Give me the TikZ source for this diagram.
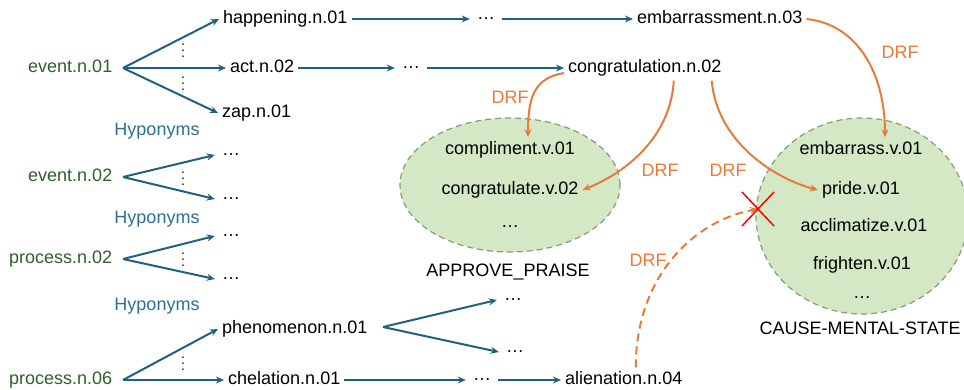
\documentclass[tikz,border=0pt]{standalone}
\usepackage{fontspec}
\setmainfont{Liberation Sans}
\usetikzlibrary{arrows.meta,shapes.geometric}
\definecolor{linkblue}{HTML}{22607F}
\definecolor{hypblue}{HTML}{2F6F8F}
\definecolor{rootgreen}{HTML}{2F5F2A}
\definecolor{drforange}{HTML}{E77B3A}
\definecolor{framefill}{HTML}{D5E8C5}
\definecolor{frameline}{HTML}{869C79}
\newcommand{\vdts}{\vbox{\fontsize{14}{6}\selectfont\baselineskip6pt\lineskiplimit0pt\hbox{.}\hbox{.}\hbox{.}}}
\tikzset{
syn/.style={inner sep=4pt, text height=13pt, text depth=4pt},
root/.style={syn, text=rootgreen},
hyp/.style={text=hypblue},
more/.style={inner sep=7pt},
vdt/.style={inner sep=0pt, anchor=base},
rel/.style={draw=linkblue, line width=2pt, -{Stealth[length=8pt,width=7pt]}},
drf/.style={draw=drforange, line width=2pt, -{Stealth[length=8pt,width=7pt]}},
drflab/.style={text=drforange},
frame/.style={ellipse, draw=frameline, dash pattern=on 6pt off 4pt, fill=framefill, line width=1.2pt}
}
\begin{document}
\begin{tikzpicture}[x=1pt,y=-1pt,font=\fontsize{18}{21}\selectfont]
\useasboundingbox (0,0) rectangle (964,389);
\clip (0,0) rectangle (964,389);
\node[frame, minimum width=220pt, minimum height=134pt] (ap) at (510,185) {};
\node[frame, minimum width=212pt, minimum height=196pt] (cms) at (862,216) {};

\node[root, anchor=west] (ev1) at (24,68) {event.n.01};
\node[root, anchor=west] (ev2) at (24,177) {event.n.02};
\node[root, anchor=west] (pr2) at (5,259) {process.n.02};
\node[root, anchor=west] (pr6) at (5,380) {process.n.06};
\coordinate (f1) at (123,68);
\coordinate (f2) at (123,177);
\coordinate (f3) at (123,259);
\coordinate (f4) at (123,380);
\node[hyp] (hy1) at (157,131) {Hyponyms};
\node[hyp] (hy2) at (157,219) {Hyponyms};
\node[hyp] (hy3) at (157,306) {Hyponyms};

\node[syn, anchor=west] (hap) at (219,19) {happening.n.01};
\node[syn, anchor=west] (act) at (226,68) {act.n.02};
\node[syn, anchor=west] (zap) at (218,113) {zap.n.01};
\node[vdt] (v1) at (183,57) {\vdts};
\node[vdt] (v2) at (183,90) {\vdts};
\node[more] (e2a) at (231,155) {…};
\node[more] (e2b) at (231,199) {…};
\node[vdt] (v3) at (183,185) {\vdts};
\node[more] (p2a) at (231,236) {…};
\node[more] (p2b) at (231,279) {…};
\node[vdt] (v4) at (183,266) {\vdts};
\node[syn, anchor=west] (phe) at (218,329) {phenomenon.n.01};
\node[syn, anchor=west] (che) at (224,380) {chelation.n.01};
\node[vdt] (v5) at (183,370) {\vdts};

\node[more] (hd) at (486,19) {…};
\node[syn, anchor=west] (emb) at (633,19) {embarrassment.n.03};
\node[more] (ad) at (411,68) {…};
\node[syn, anchor=west] (cg) at (564,68) {congratulation.n.02};
\coordinate (f5) at (383,327);
\node[more] (pd1) at (513,300) {…};
\node[more] (pd2) at (515,352) {…};
\node[more] (cd) at (482,380) {…};
\node[syn, anchor=west] (ali) at (561,380) {alienation.n.04};

\node[syn] (cp) at (510,150) {compliment.v.01};
\node[syn] (cgv) at (510,190) {congratulate.v.02};
\node[more] (apd) at (510,227) {…};
\node (apl) at (508,272) {APPROVE\_PRAISE};
\node[syn] (emv) at (861,150) {embarrass.v.01};
\node[syn] (prv) at (861,190) {pride.v.01};
\node[syn] (acv) at (864,227) {acclimatize.v.01};
\node[syn] (frv) at (862,265) {frighten.v.01};
\node[more] (cmd) at (862,298) {…};
\node[anchor=west] (cml) at (756,328) {CAUSE-MENTAL-STATE};

\draw[rel] (f1) -- (hap.west);
\draw[rel] (f1) -- (act.west);
\draw[rel] (f1) -- (zap.west);
\draw[rel] (f2) -- (e2a.west);
\draw[rel] (f2) -- (e2b.west);
\draw[rel] (f3) -- (p2a.west);
\draw[rel] (f3) -- (p2b.west);
\draw[rel] (f4) -- (phe.west);
\draw[rel] (f4) -- (che.west);
\draw[rel] (hap) -- (hd);
\draw[rel] (hd) -- (emb);
\draw[rel] (act) -- (ad);
\draw[rel] (ad) -- (cg);
\draw[rel] (f5) -- (pd1.west);
\draw[rel] (f5) -- (pd2.west);
\draw[rel] (che) -- (cd);
\draw[rel] (cd) -- (ali);

\draw[drf] ([yshift=-5pt]cg.west) .. controls +(-30,5) and +(0,-40) .. ([xshift=18pt]cp.north);
\node[drflab] (l1) at (510,97) {DRF};
\draw[drf] ([xshift=29pt]cg.south) .. controls +(-3,55) and +(45,-18) .. (cgv.east);
\node[drflab] (l2) at (660,170) {DRF};
\draw[drf] ([xshift=67pt]cg.south) .. controls +(5,60) and +(-45,-12) .. (prv.west);
\node[drflab] (l3) at (728,170) {DRF};
\draw[drf] (emb.east) .. controls +(50,5) and +(0,-65) .. ([xshift=24pt]emv.north);
\node[drflab] (l4) at (900,52) {DRF};
\coordinate (cross) at (758,209);
\draw[drf, dash pattern=on 8pt off 5pt] ([xshift=12pt]ali.north) .. controls +(0,-90) and +(-65,12) .. (cross);
\node[drflab] (l5) at (648,260) {DRF};
\draw[red, line width=1.5pt] ([shift={(-16pt,17pt)}]cross) -- ([shift={(16pt,-17pt)}]cross);
\draw[red, line width=1.5pt] ([shift={(-16pt,-17pt)}]cross) -- ([shift={(16pt,17pt)}]cross);
\end{tikzpicture}
\end{document}
